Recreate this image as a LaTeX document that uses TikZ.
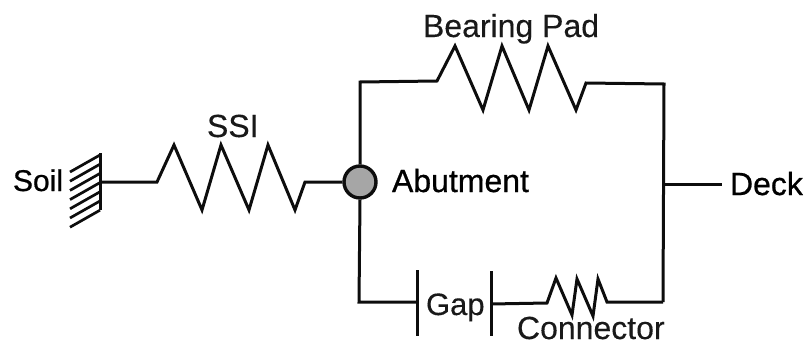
\documentclass[tikz,border=0pt]{standalone}
\usepackage{fontspec}
\setmainfont{Liberation Sans}
\newfontfamily\lightheavy[FakeBold=0.25]{Liberation Sans}
\newfontfamily\strongheavy[FakeBold=0.7]{Liberation Sans}
\tikzset{
  wire/.style={line width=3pt,line cap=butt,line join=miter,miter limit=10,black!95},
  hatchline/.style={line width=2.7pt,black!95},
  label/.style={anchor=base west,inner sep=0pt,outer sep=0pt,font=\lightheavy\fontsize{32}{32}\selectfont,text=black!90},
  strong/.style={label,font=\strongheavy\fontsize{32}{32}\selectfont,text=black},
  joint/.style={circle,draw=black!95,line width=3.4pt,fill=black!35,minimum size=32pt,inner sep=0pt}
}
\begin{document}
\begin{tikzpicture}[x=1pt,y=-1pt]
\useasboundingbox (0,0) rectangle (806,343);
% junctions and free ends
\node[joint] (abut) at (360,182) {};
\coordinate (wallT) at (100,153);
\coordinate (wallB) at (100,210);
\coordinate (wallM) at (100,182);
\coordinate (ssiA) at (157,182);
\coordinate (ssiB) at (305,182);
\coordinate (topL) at (360,82);
\coordinate (padA) at (437,81);
\coordinate (padB) at (586,83);
\coordinate (topR) at (664,84);
\coordinate (midR) at (664,184);
\coordinate (deckEnd) at (722,184);
\coordinate (botL) at (359,302);
\coordinate (botR) at (663,302);
\coordinate (gapA) at (417,302);
\coordinate (gapB) at (491,304);
\coordinate (conA) at (547,303);
\coordinate (conB) at (607,302);
% soil wall
\draw[wire] (wallT) -- (wallB);
\foreach \k in {0,...,6}{
  \draw[hatchline] (100,155+9.2*\k) -- (70,172+9.2*\k);
}
% SSI spring
\draw[wire] (wallM) -- (ssiA) -- (174,145) -- (202,210) -- (221,145) -- (249,210) -- (268,145) -- (295,210) -- (ssiB) -- (abut.west);
% bearing pad branch
\draw[wire] (abut.north) -- (topL) -- (padA) -- (455,46) -- (483,110) -- (502,46) -- (529,110) -- (548,46) -- (576,110) -- (padB) -- (topR) -- (botR);
% gap and connector branch
\draw[wire] (abut.south) -- (botL) -- (gapA);
\draw[wire] (417,270) -- (417,336);
\draw[wire] (491,271) -- (491,336);
\draw[wire] (gapB) -- (conA) -- (556,278) -- (572,315) -- (577,279) -- (593,316) -- (598,279) -- (conB) -- (botR);
% deck
\draw[wire] (midR) -- (deckEnd);
% labels
\node[strong,font=\strongheavy\fontsize{30}{30}\selectfont] (soil) at (13,191) {Soil};
\node[label] (ssi) at (207,137) {SSI};
\node[label] (bearing) at (423,37) {Bearing Pad};
\node[strong] (abutment) at (392,192) {Abutment};
\node[strong] (deck) at (730,195) {Deck};
\node[label,font=\lightheavy\fontsize{31}{31}\selectfont] (gap) at (426,315) {Gap};
\node[label] (connector) at (517,339) {Connector};
\end{tikzpicture}
\end{document}
